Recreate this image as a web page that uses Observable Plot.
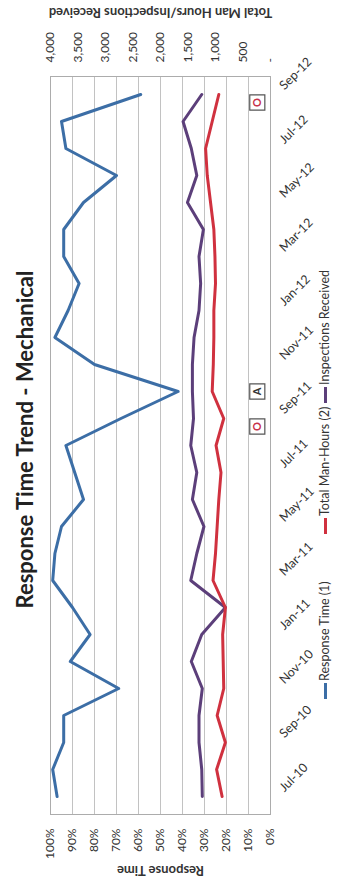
<!DOCTYPE html>
<html><head><meta charset="utf-8">
<script src="https://cdn.jsdelivr.net/npm/d3@7"></script>
<script src="https://cdn.jsdelivr.net/npm/@observablehq/plot@0.6"></script>
<style>
html,body{margin:0;padding:0;background:#fff;overflow:hidden;width:339px;height:879px;}
#rot{position:absolute;left:0;top:0;width:879px;height:339px;transform-origin:0 0;transform:translate(0,879px) rotate(-90deg);font-family:Lato,"Open Sans",sans-serif;background:#fff;}
#title{position:absolute;left:0;top:0;width:879px;height:44px;line-height:50px;text-align:center;font-size:22px;font-weight:bold;color:#222;}
#chart{position:absolute;left:0;top:44px;}
#legend{position:absolute;left:0;top:317px;width:879px;height:22px;font-size:12.5px;color:#333;}
.item{position:absolute;top:0;height:16px;line-height:16px;display:flex;align-items:center;white-space:nowrap;}
.sw{display:inline-block;width:16px;height:3px;margin-right:2px;}
</style></head>
<body>
<div id="rot">
  <div id="title">Response Time Trend - Mechanical</div>
  <div id="chart"></div>
  <div id="legend"></div>
</div>
<script>
const months = ["Jul-10","Aug-10","Sep-10","Oct-10","Nov-10","Dec-10","Jan-11","Feb-11","Mar-11","Apr-11","May-11","Jun-11","Jul-11","Aug-11","Sep-11","Oct-11","Nov-11","Dec-11","Jan-12","Feb-12","Mar-12","Apr-12","May-12","Jun-12","Jul-12","Aug-12","Sep-12"];
const responseTime = [97, 99, 94, 94, 69, 91, 82, 90, 99, 98, 95, 85, 89, 93, 68, 42, 80, 98, 92, 87, 94, 94, 85, 70, 93, 95, 59];
const manHours = [880, 980, 820, 970, 850, 860, 870, 820, 1045, 1000, 970, 940, 900, 990, 850, 1060, 1040, 1030, 1030, 1000, 1010, 1030, 1090, 1150, 1180, 1060, 940];
const inspections = [1240, 1250, 1300, 1300, 1240, 1440, 1250, 820, 1450, 1340, 1210, 1420, 1340, 1450, 1400, 1420, 1420, 1390, 1300, 1270, 1300, 1220, 1510, 1340, 1440, 1590, 1250];
const xTickLabels = ["Jul-10","Sep-10","Nov-10","Jan-11","Mar-11","May-11","Jul-11","Sep-11","Nov-11","Jan-12","Mar-12","May-12","Jul-12","Sep-12"];
const pctTicks = [0,10,20,30,40,50,60,70,80,90,100];
const secTicks = [0,500,1000,1500,2000,2500,3000,3500,4000];
const secTickLabels = ["-","500","1,000","1,500","2,000","2,500","3,000","3,500","4,000"];
const seriesNames = ["Response Time (1)","Total Man-Hours (2)","Inspections Received"];
const seriesColors = ["#3c6ea6","#d0313f","#5c3f7a"];
const noteMonthsO = ["Sep-11","Sep-12"];
const noteMonthsA = ["Oct-11"];

const SEC = 40; // secondary axis 0..4000 onto 0..100
const rows = months.map((m,i)=>({month:m, rt:responseTime[i], mh:manHours[i], ins:inspections[i]}));

const chart = Plot.plot({
  width: 879, height: 273,
  marginTop: 6, marginBottom: 47, marginLeft: 64, marginRight: 77,
  style: {fontFamily: "Lato, sans-serif", fontSize: "12px", color: "#333", background: "transparent", overflow: "visible"},
  x: {type: "point", domain: months, padding: 0.5, axis: null},
  y: {domain: [0,100], ticks: pctTicks, tickFormat: d => d + "%", tickSize: 0, tickPadding: 14, label: null},
  marks: [
    Plot.ruleY(pctTicks, {stroke: "#c2c2c2", strokeWidth: 1}),
    Plot.frame({stroke: "#acacac"}),
    Plot.line(rows, {x: "month", y: d => d.ins / SEC, stroke: seriesColors[2], strokeWidth: 3, strokeLinejoin: "round"}),
    Plot.line(rows, {x: "month", y: d => d.mh / SEC, stroke: seriesColors[1], strokeWidth: 3, strokeLinejoin: "round"}),
    Plot.line(rows, {x: "month", y: "rt", stroke: seriesColors[0], strokeWidth: 3, strokeLinejoin: "round"}),
    Plot.dot(noteMonthsO, {x: d => d, y: d => 6, symbol: "square", r: 8.5, fill: "white", stroke: "#555", strokeWidth: 1.2, dx: -8}),
    Plot.text(noteMonthsO, {x: d => d, y: d => 6, text: d => "O", fill: "#c8314a", fontWeight: "bold", fontSize: 11, dx: -8}),
    Plot.dot(noteMonthsA, {x: d => d, y: d => 6, symbol: "square", r: 8.5, fill: "white", stroke: "#555", strokeWidth: 1.2}),
    Plot.text(noteMonthsA, {x: d => d, y: d => 6, text: d => "A", fill: "#333", fontWeight: "bold", fontSize: 11}),
    Plot.text(xTickLabels, {x: d => d, text: d => d, frameAnchor: "bottom", rotate: 45, textAnchor: "start", dx: 4, dy: 14, fill: "#333", fontSize: 12.5}),
    Plot.text(secTicks, {y: d => d / SEC, text: (d, i) => secTickLabels[i], frameAnchor: "right", textAnchor: "start", dx: 14, fill: "#333"}),
    Plot.text(["Response Time"], {y: d => 50, text: d => d, frameAnchor: "left", textAnchor: "middle", lineAnchor: "middle", dx: -56, rotate: -90, fontWeight: "bold", fontSize: 13, fill: "#333"}),
    Plot.text(["Total Man Hours/Inspections Received"], {y: d => 50, text: d => d, frameAnchor: "right", textAnchor: "middle", lineAnchor: "middle", dx: 64, rotate: -90, fontWeight: "bold", fontSize: 13, fill: "#333"})
  ]
});
document.getElementById("chart").appendChild(chart);

const legendX = [180, 345, 476];
const legend = document.getElementById("legend");
seriesNames.forEach((name, i) => {
  const it = document.createElement("div");
  it.className = "item";
  it.style.left = legendX[i] + "px";
  const sw = document.createElement("span");
  sw.className = "sw";
  sw.style.background = seriesColors[i];
  it.appendChild(sw);
  it.appendChild(document.createTextNode(name));
  legend.appendChild(it);
});
</script>
</body></html>
